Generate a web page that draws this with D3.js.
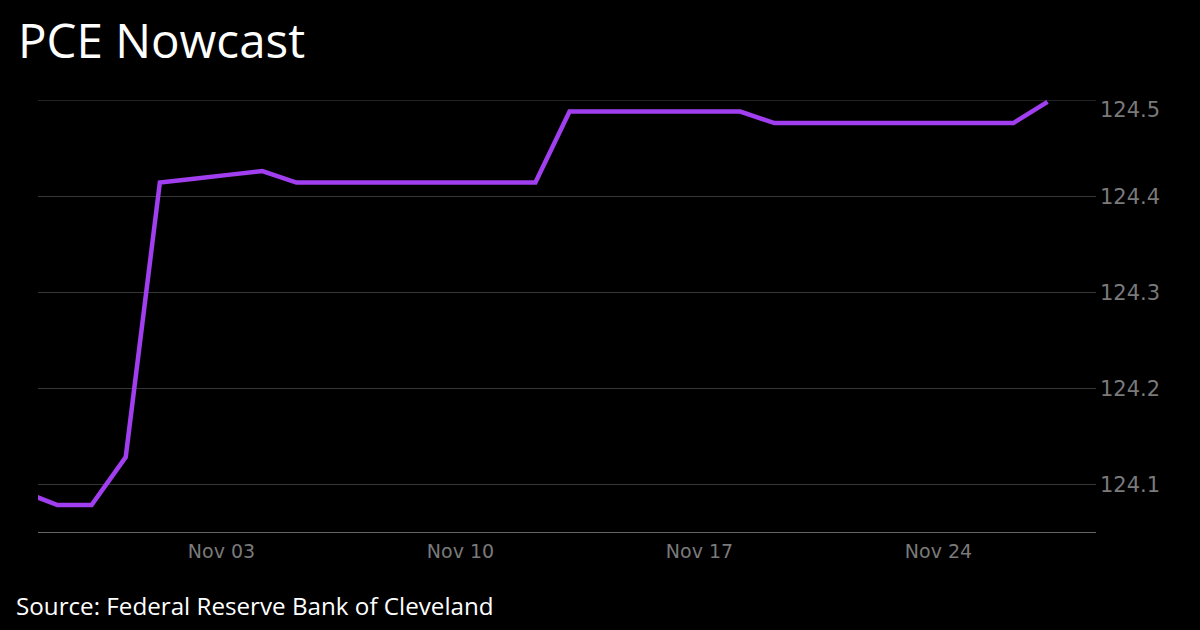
<!DOCTYPE html>
<html>
<head>
<meta charset="utf-8">
<script src="https://cdn.jsdelivr.net/npm/d3@7/dist/d3.min.js"></script>
<style>
  html, body { margin: 0; padding: 0; background: #000; }
  svg { display: block; }
</style>
</head>
<body>
<svg id="chart" width="1200" height="630"></svg>
<script>
// ---- Data ----
const title = "PCE Nowcast";
const source = "Source: Federal Reserve Bank of Cleveland";
const dates = [
  "2024-10-28","2024-10-29","2024-10-30","2024-10-31","2024-11-01","2024-11-02","2024-11-03",
  "2024-11-04","2024-11-05","2024-11-06","2024-11-07","2024-11-08","2024-11-09","2024-11-10",
  "2024-11-11","2024-11-12","2024-11-13","2024-11-14","2024-11-15","2024-11-16","2024-11-17",
  "2024-11-18","2024-11-19","2024-11-20","2024-11-21","2024-11-22","2024-11-23","2024-11-24",
  "2024-11-25","2024-11-26","2024-11-27"
];
const values = [
  124.092, 124.078, 124.078, 124.128, 124.414, 124.418, 124.422,
  124.426, 124.414, 124.414, 124.414, 124.414, 124.414, 124.414,
  124.414, 124.414, 124.488, 124.488, 124.488, 124.488, 124.488,
  124.488, 124.476, 124.476, 124.476, 124.476, 124.476, 124.476,
  124.476, 124.476, 124.498
];
const yTicks = [124.1, 124.2, 124.3, 124.4, 124.5];
const xTickDates = ["2024-11-03", "2024-11-10", "2024-11-17", "2024-11-24"];
const xDomain = ["2024-10-28T15:20:00", "2024-11-28T15:05:00"];
const yDomain = [124.05, 124.5];

(function () {
// ---- Layout ----
const W = 1200, H = 630;
const mLeft = 38, mRight = 1096, mTop = 100, mBottom = 532;

const parseDay = s => new Date(s + "T05:00:00");
const parseTick = s => new Date(s + "T00:00:00");
const data = dates.map((d, i) => ({ date: parseDay(d), value: values[i] }));

const svg = d3.select("#chart");
svg.append("rect").attr("width", W).attr("height", H).attr("fill", "#000");

const x = d3.scaleTime().domain(xDomain.map(s => new Date(s))).range([mLeft, mRight]);
const y = d3.scaleLinear().domain(yDomain).range([mBottom, mTop]);

// Grid lines
const grid = svg.append("g");
grid.selectAll("line").data(yTicks).join("line")
  .attr("x1", mLeft).attr("x2", mRight)
  .attr("y1", d => Math.round(y(d)) + 0.5).attr("y2", d => Math.round(y(d)) + 0.5)
  .attr("stroke", d => d === 124.5 ? "#222" : "#363636")
  .attr("stroke-width", 1);

// Y axis (right)
const yAxis = d3.axisRight(y).tickValues(yTicks).tickSize(0).tickPadding(0)
  .tickFormat(d3.format(".1f"));
const yg = svg.append("g").attr("transform", `translate(${mRight + 4},0)`).call(yAxis);
yg.select(".domain").remove();
yg.selectAll("text")
  .attr("fill", "#7a7a7a")
  .style("font-family", "'DejaVu Sans', sans-serif")
  .style("font-size", "21px")
  .attr("dy", d => d === 124.5 ? "0.8em" : "0.35em");

// X axis
const xAxis = d3.axisBottom(x).tickValues(xTickDates.map(parseTick))
  .tickSize(0).tickPadding(13).tickFormat(d3.timeFormat("%b %d"));
const xg = svg.append("g").attr("transform", `translate(0,${mBottom})`).call(xAxis);
xg.select(".domain").attr("stroke", "#666").attr("d", `M${mLeft},0.5H${mRight}`);
xg.selectAll("text")
  .attr("fill", "#7a7a7a")
  .style("font-family", "'DejaVu Sans', sans-serif")
  .style("font-size", "19px");

// Clip
svg.append("clipPath").attr("id", "clip").append("rect")
  .attr("x", mLeft).attr("y", 0).attr("width", mRight - mLeft).attr("height", mBottom);

// Line
const line = d3.line().x(d => x(d.date)).y(d => y(d.value));
svg.append("path").datum(data)
  .attr("clip-path", "url(#clip)")
  .attr("d", line)
  .attr("fill", "none")
  .attr("stroke", "#a13ff0")
  .attr("stroke-width", 4.5)
  .attr("stroke-linejoin", "miter");

// Title
svg.append("text").attr("x", 18).attr("y", 58)
  .text(title)
  .attr("fill", "#fff")
  .style("font-family", "'Open Sans', sans-serif")
  .style("font-size", "47.5px");

// Source
svg.append("text").attr("x", 16).attr("y", 615)
  .text(source)
  .attr("fill", "#fff")
  .style("font-family", "'Open Sans', sans-serif")
  .style("font-size", "24.2px");
})();
</script>
</body>
</html>
